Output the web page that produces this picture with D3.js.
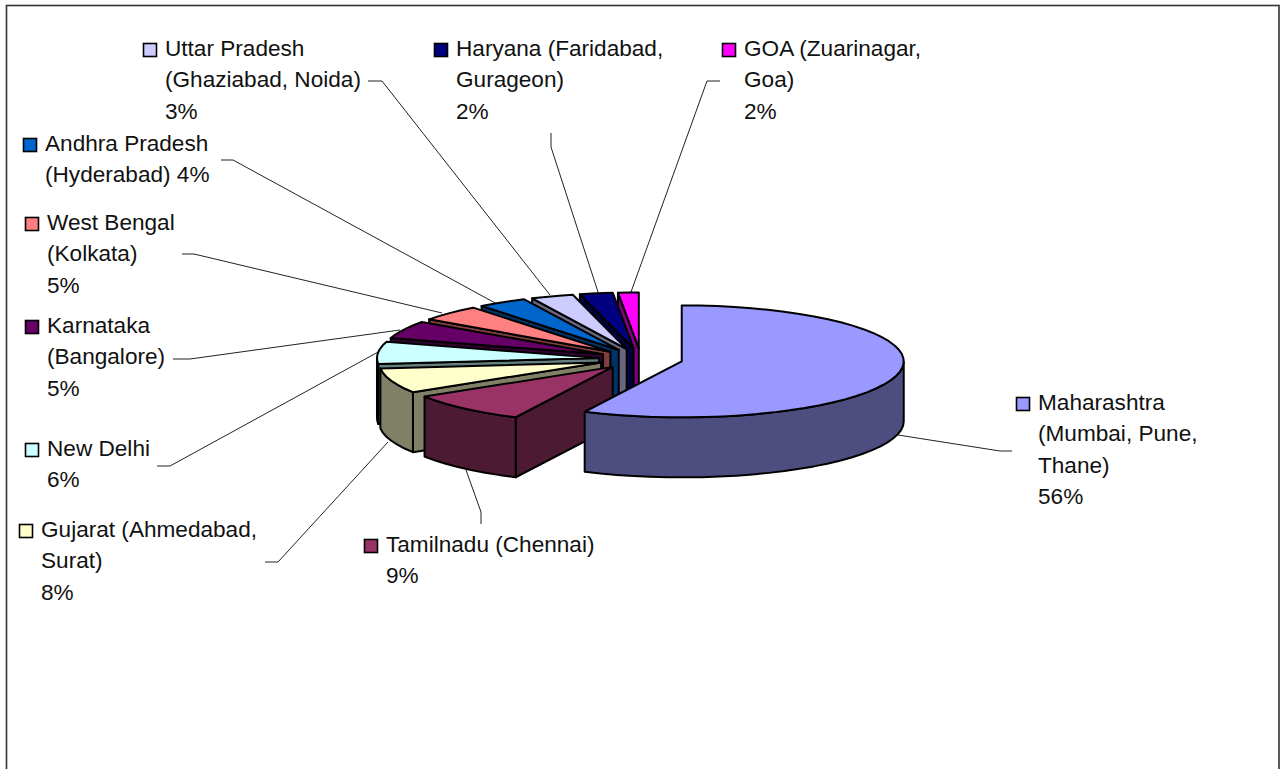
<!DOCTYPE html>
<html>
<head>
<meta charset="utf-8">
<style>
  html, body { margin: 0; padding: 0; background: #fff; overflow: hidden; }
  text { font-family: "Liberation Sans", Arial, sans-serif; font-size: 22.6px; fill: #111; }
</style>
<script src="https://cdn.jsdelivr.net/npm/d3@7"></script>
</head>
<body>
<div id="grafico"></div>
<script>
const states = ["Maharashtra", "Tamilnadu", "Gujarat", "New Delhi", "Karnataka",
                "West Bengal", "Andhra Pradesh", "Uttar Pradesh", "Haryana", "GOA"];

const shares = [57.2, 8.9, 7.2, 6.4, 5.1, 4.6, 3.6, 3.1, 2.4, 1.5];

const labelLines = [
    ["Maharashtra", "(Mumbai, Pune,", "Thane)", "56%"],
    ["Tamilnadu (Chennai)", "9%"],
    ["Gujarat (Ahmedabad,", "Surat)", "8%"],
    ["New Delhi", "6%"],
    ["Karnataka", "(Bangalore)", "5%"],
    ["West Bengal", "(Kolkata)", "5%"],
    ["Andhra Pradesh", "(Hyderabad) 4%"],
    ["Uttar Pradesh", "(Ghaziabad, Noida)", "3%"],
    ["Haryana (Faridabad,", "Gurageon)", "2%"],
    ["GOA (Zuarinagar,", "Goa)", "2%"]
];

const topColors  = ["#9999FF", "#993366", "#FFFFCC", "#CCFFFF", "#660066",
                    "#FF8080", "#0066CC", "#CCCCFF", "#000080", "#FF00FF"];
const sideColors = ["#4D4D80", "#4D1A33", "#808066", "#668080", "#330033",
                    "#804040", "#003366", "#666680", "#000040", "#800080"];

// text left edge and first baseline of each label block
const labelPos = [[1038, 410], [386, 552], [41, 537], [47, 456], [47, 333],
                  [47, 230], [45, 151], [165, 56], [456, 56], [744, 56]];

const leaders = [
    [[1012, 451], [1000, 451], [898, 435]],
    [[481, 524], [481, 512], [466, 470]],
    [[265, 562], [278, 562], [388, 442]],
    [[157, 466], [170, 466], [380, 351]],
    [[173, 359], [190, 359], [400, 330]],
    [[182, 254], [194, 254], [442, 313]],
    [[221, 160], [233, 160], [497, 304]],
    [[368, 81], [382, 81], [550, 295]],
    [[551, 133], [551, 147], [598, 292]],
    [[720, 81], [707, 81], [631, 292]]
];

const width = 1283, height = 769;
const center = { x: 640.8, y: 359 };
const rx = 222, ry = 56, depth = 60;
const explodeX = 42, explodeY = 10.6;
const lineHeight = 31.3, boxSize = 13;

const svg = d3.select("#grafico").append("svg")
              .attr("width", width)
              .attr("height", height)
              .style("display", "block");

// frame, runs off the bottom of the page
svg.append("rect")
   .attr("x", 6.5).attr("y", 5.5)
   .attr("width", 1272.5).attr("height", 800)
   .attr("fill", "#fff")
   .attr("stroke", "#333")
   .attr("stroke-width", 1.6);

const lineGen = d3.line();

svg.append("g").selectAll("path")
   .data(leaders)
   .join("path")
   .attr("d", d => lineGen(d))
   .attr("fill", "none")
   .attr("stroke", "#222")
   .attr("stroke-width", 1);

const arcs = d3.pie().sort(null).value(d => d)(shares);

function rim(apex, a) {
    return [apex[0] + rx * Math.sin(a), apex[1] - ry * Math.cos(a)];
}

function arcPoints(apex, a0, a1) {
    const n = Math.max(1, Math.ceil((a1 - a0) / 0.08));
    return d3.range(n + 1).map(i => rim(apex, a0 + (a1 - a0) * i / n));
}

const down = p => [p[0], p[1] + depth];

// back slices first, the big front ones go on top
const order = d3.range(arcs.length).reverse();

const slices = svg.append("g")
                  .attr("stroke", "#000")
                  .attr("stroke-width", 2)
                  .attr("stroke-linejoin", "round");

order.forEach(i => {
    const d = arcs[i];
    const mid = (d.startAngle + d.endAngle) / 2;
    const apex = [center.x + explodeX * Math.sin(mid),
                  center.y - explodeY * Math.cos(mid)];

    // cut faces, only the ones turned to the viewer
    const faces = [];
    if (Math.sin(d.startAngle) < -1e-6) faces.push(d.startAngle);
    if (Math.sin(d.endAngle) > 1e-6) faces.push(d.endAngle);
    faces.forEach(a => {
        const p = rim(apex, a);
        slices.append("path")
              .attr("d", lineGen([apex, p, down(p), down(apex)]) + "Z")
              .attr("fill", sideColors[i]);
    });

    // outer wall, only the part that faces the front
    const a0 = Math.max(d.startAngle, Math.PI / 2);
    const a1 = Math.min(d.endAngle, Math.PI * 1.5);
    if (a1 > a0) {
        const edge = arcPoints(apex, a0, a1);
        slices.append("path")
              .attr("d", lineGen(edge.concat(edge.map(down).reverse())) + "Z")
              .attr("fill", sideColors[i]);
    }

    slices.append("path")
          .attr("d", lineGen([apex].concat(arcPoints(apex, d.startAngle, d.endAngle))) + "Z")
          .attr("fill", topColors[i]);
});

const labels = svg.append("g");

labelLines.forEach((lines, i) => {
    const [x, y] = labelPos[i];
    labels.append("rect")
          .attr("x", x - 21.5).attr("y", y - boxSize + 0.5)
          .attr("width", boxSize).attr("height", boxSize)
          .attr("fill", topColors[i])
          .attr("stroke", "#000")
          .attr("stroke-width", 1.6);
    labels.selectAll(null)
          .data(lines)
          .join("text")
          .attr("x", x)
          .attr("y", (d, j) => y + j * lineHeight)
          .text(d => d);
});
</script>
</body>
</html>
